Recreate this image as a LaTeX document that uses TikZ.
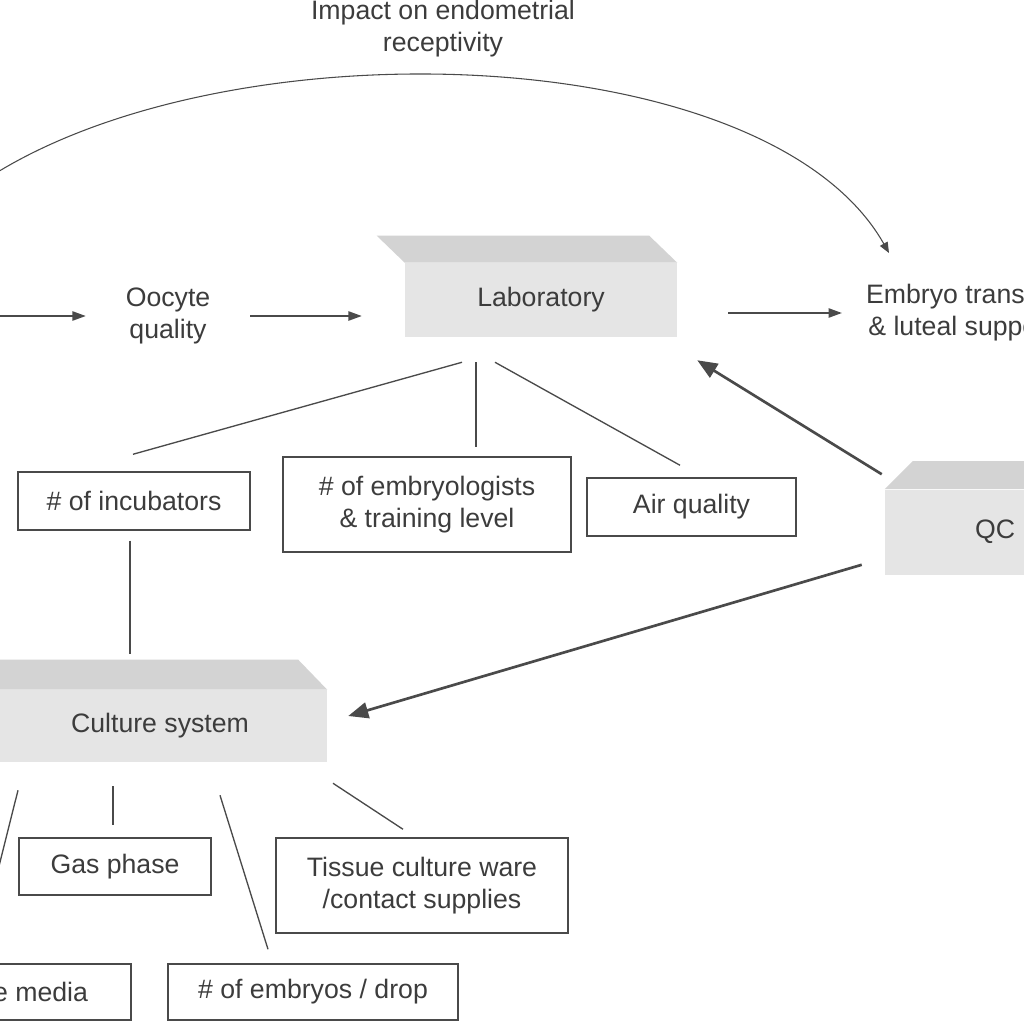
\documentclass[tikz,border=0pt]{standalone}
\usepackage{fontspec}
\setmainfont{Liberation Sans}
\usetikzlibrary{arrows.meta}
\definecolor{txt}{HTML}{3C3C3C}
\definecolor{ln}{HTML}{4A4A4A}
\definecolor{topf}{HTML}{D3D3D3}
\definecolor{frontf}{HTML}{E5E5E5}
\begin{document}
\begin{tikzpicture}[x=0.75pt,y=-0.75pt,
  every node/.style={font=\fontsize{20}{24}\selectfont, text=txt},
  lbl/.style={align=center, inner sep=0pt},
  rbox/.style={draw=ln, line width=1.1pt, align=center, inner sep=0pt},
  front/.style={fill=frontf, inner sep=0pt, align=center},
  conn/.style={draw=ln, line width=1pt},
  arr/.style={draw=ln, line width=1.1pt, -{Triangle[length=10pt,width=7pt]}},
  bigarr/.style={draw=ln, line width=2pt, -{Triangle[length=15pt,width=12pt]}},
  curvearr/.style={draw=ln, line width=0.8pt, -{Triangle[length=8pt,width=6.5pt]}}]
\useasboundingbox (0,0) rectangle (1024,1024);
\clip (0,0) rectangle (1024,1024);

% title
\node[lbl] (title) at (443,29) {Impact on endometrial\\receptivity};

% 3D boxes
\node[front, minimum width=204pt, minimum height=55.5pt] (lab) at (541,300) {Laboratory};
\fill[topf] (lab.north west) -- ++(-28,-27) -- ([shift={(-28,-27)}]lab.north east) -- (lab.north east) -- cycle;

\node[front, minimum width=165pt, minimum height=63.75pt] (qc) at (995,532) {QC};
\fill[topf] (qc.north west) -- ++(28,-28) -- ([shift={(28,-28)}]qc.north east) -- (qc.north east) -- cycle;

\node[front, minimum width=250.5pt, minimum height=54pt] (cul) at (160,726) {Culture system};
\fill[topf] (cul.north west) -- ++(-29,-30) -- ([shift={(-29,-30)}]cul.north east) -- (cul.north east) -- cycle;

% text nodes
\node[lbl, minimum width=123pt] (ooc) at (168,316) {Oocyte\\quality};
\node[lbl] (et) at (961,313) {Embryo transfer\\\& luteal support};

% boxes
\node[rbox, minimum width=174pt, minimum height=43.5pt] (inc) at (134,501) {\# of incubators};
\node[rbox, minimum width=216pt, minimum height=71.25pt] (emb) at (427,504.5) {\# of embryologists\\\& training level};
\node[rbox, minimum width=156.75pt, minimum height=43.5pt] (air) at (691.5,507) {Air quality};
\node[rbox, minimum width=144pt, minimum height=42.75pt] (gas) at (115,866.5) {Gas phase};
\node[rbox, minimum width=219pt, minimum height=71.25pt] (tis) at (422,885.5) {Tissue culture ware\\/contact supplies};
\node[rbox, minimum width=189pt, minimum height=42pt] (med) at (5,992) {Culture media};
\node[rbox, minimum width=217.5pt, minimum height=42pt] (nemb) at (313,992) {\# of embryos / drop};

% free ends
\coordinate (inflow) at (-40,316);
\coordinate (curvestart) at (-60,215);
\coordinate (oil) at (-4,878);

% arrows
\draw[arr] (inflow) -- (ooc.west);
\draw[arr, shorten >=32.25pt] (ooc.east) -- (ooc.east -| lab.west);
\draw[arr, shorten <=38.25pt, shorten >=18pt] (et.west -| lab.east) -- (et.west);
\draw[curvearr] (curvestart) .. controls (150,20) and (760,25) .. ([shift={(-72,-60)}]et.center);
\draw[bigarr] ([shift={(-3,-15)}]qc.north west) -- ([shift={(20,23)}]lab.south east);
\draw[bigarr] ([shift={(-23,-10)}]qc.south west) -- ([shift={(21,-10)}]cul.east);

% lab lines
\draw[conn] ([shift={(-79,25)}]lab.south) -- ([shift={(-1,-17)}]inc.north);
\draw[conn] ([shift={(-65,25)}]lab.south) -- ([shift={(49,-9)}]emb.north);
\draw[conn] ([shift={(-46,25)}]lab.south) -- ([shift={(-11.5,-12)}]air.north);
\draw[conn] ([shift={(-4,10)}]inc.south) -- ([shift={(-30,-36)}]cul.north);

% culture lines
\draw[conn] ([shift={(-142,28)}]cul.south) -- (oil);
\draw[conn] ([shift={(-47,24)}]cul.south) -- ([shift={(-2,-12)}]gas.north);
\draw[conn] ([shift={(60,33)}]cul.south) -- ([shift={(-45,-14)}]nemb.north);
\draw[conn] ([shift={(173,21)}]cul.south) -- ([shift={(-19,-8)}]tis.north);
\end{tikzpicture}
\end{document}
